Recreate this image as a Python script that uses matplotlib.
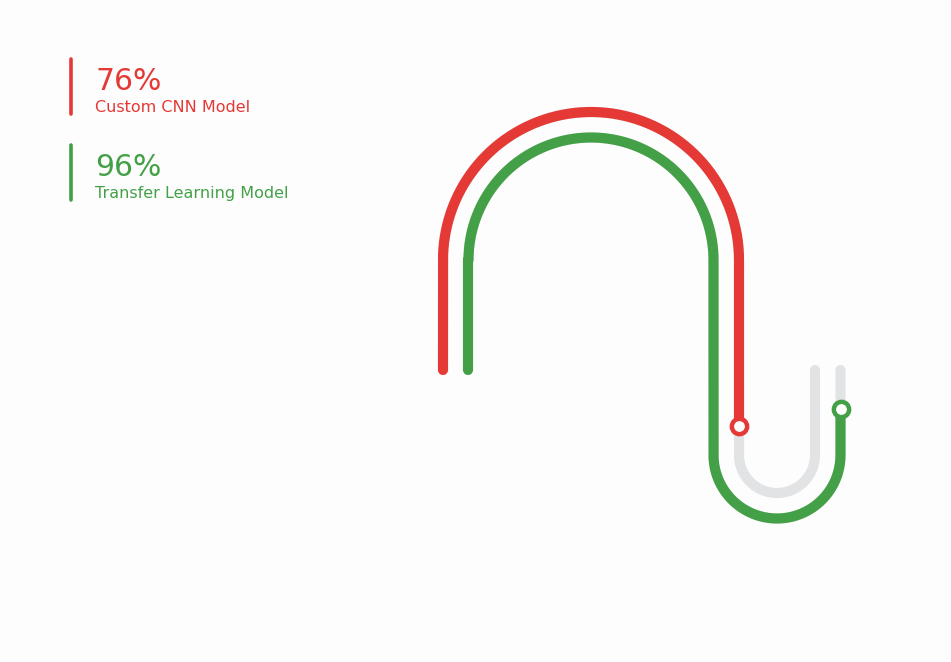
import numpy as np
import matplotlib.pyplot as plt

# model accuracies
labels = ["Custom CNN Model", "Transfer Learning Model"]
values = [76, 96]
colors = ["#e53935", "#43a047"]
track_color = "#e2e3e5"

# lane geometry (pixel coordinates, y down)
lane_x_left = [443, 468]
top_radius = [148, 122.5]
bottom_radius = [38, 63.5]
cx_top, cy_top = 591, 260
cx_bot, cy_bot = 776.5, 455
y_start = 370


def lane_path(i):
    pts = []
    # left vertical, going up
    ys = np.linspace(y_start, cy_top, 50)
    pts += [(lane_x_left[i], y) for y in ys]
    # top arc, left to right over the top
    r = top_radius[i]
    t = np.linspace(np.pi, 0, 300)
    pts += [(cx_top + r * np.cos(a), cy_top - r * np.sin(a)) for a in t]
    # right vertical, going down
    xr = cx_top + r
    ys = np.linspace(cy_top, cy_bot, 80)
    pts += [(xr, y) for y in ys]
    # bottom arc
    rb = bottom_radius[i]
    cxb = xr + rb
    t = np.linspace(np.pi, 0, 200)
    pts += [(cxb + rb * np.cos(a), cy_bot + rb * np.sin(a)) for a in t]
    # final vertical, going up
    ys = np.linspace(cy_bot, y_start, 50)
    pts += [(cxb + rb, y) for y in ys]
    pts = np.array(pts)
    d = np.r_[0, np.cumsum(np.hypot(*np.diff(pts, axis=0).T))]
    return pts, d


fig = plt.figure(figsize=(9.51, 6.62), dpi=100)
fig.patch.set_facecolor("#fdfdfd")
ax = fig.add_axes([0, 0, 1, 1])
ax.set_facecolor("#fdfdfd")
ax.set_xlim(0, 951)
ax.set_ylim(662, 0)
ax.axis("off")

lw = 7.3
for i, (v, c) in enumerate(zip(values, colors)):
    pts, d = lane_path(i)
    ax.plot(pts[:, 0], pts[:, 1], color=track_color, lw=lw,
            solid_capstyle="round", solid_joinstyle="round", zorder=1)
    cut = d[-1] * v / 100
    m = d <= cut
    xe = np.interp(cut, d, pts[:, 0])
    ye = np.interp(cut, d, pts[:, 1])
    px = np.r_[pts[m, 0], xe]
    py = np.r_[pts[m, 1], ye]
    ax.plot(px, py, color=c, lw=lw, solid_capstyle="round",
            solid_joinstyle="round", zorder=2)
    ax.plot(xe, ye, "o", ms=11, mfc="white", mec=c, mew=3.2, zorder=3)

# legend block
for i, (lab, v, c) in enumerate(zip(labels, values, colors)):
    y0 = 59 + i * 86
    ax.plot([70.5, 70.5], [y0, y0 + 55], color=c, lw=2.6,
            solid_capstyle="round")
    ax.text(95, y0 + 31, f"{v}%", color=c, fontsize=21.5, va="baseline")
    ax.text(95, y0 + 53, lab, color=c, fontsize=11.5, va="baseline")

fig.savefig("out.png", dpi=100, facecolor=fig.get_facecolor())
